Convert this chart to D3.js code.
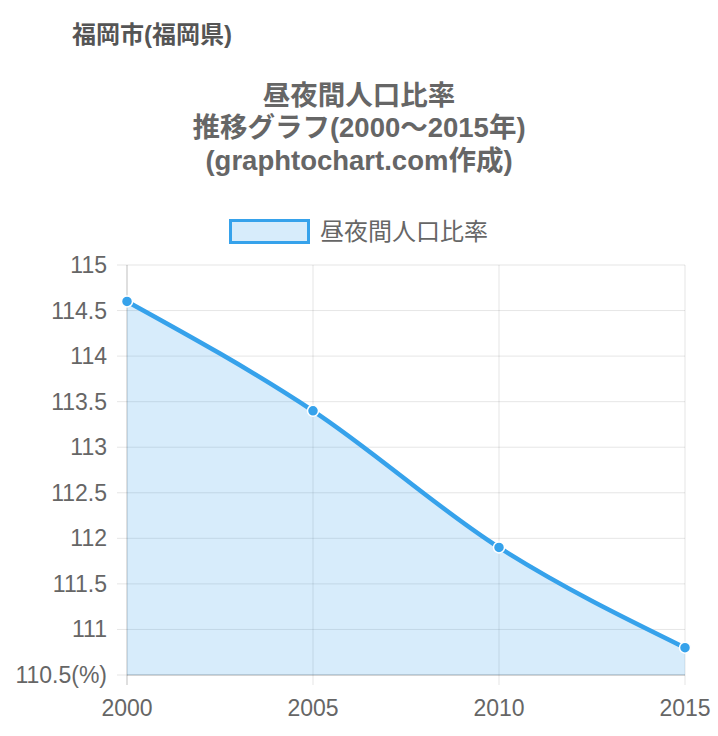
<!DOCTYPE html>
<html><head><meta charset="utf-8">
<script src="https://cdn.jsdelivr.net/npm/d3@7"></script>
<style>body{margin:0;background:#fff;}svg{display:block;font-family:"Liberation Sans","Noto Sans CJK JP",sans-serif;}</style>
</head><body>
<svg id="c" width="718" height="736"></svg>
<script>
const years = [2000, 2005, 2010, 2015];
const values = [114.6, 113.4, 111.9, 110.8];
const yTicks = [110.5, 111, 111.5, 112, 112.5, 113, 113.5, 114, 114.5, 115];
const seriesName = "昼夜間人口比率";
const pageTitle = "福岡市(福岡県)";
const titleLines = ["昼夜間人口比率", "推移グラフ(2000～2015年)", "(graphtochart.com作成)"];

(function () {
const svg = d3.select("#c");
const pL = 127, pR = 685, pT = 265, pB = 675;
const x = d3.scaleLinear().domain([2000, 2015]).range([pL, pR]);
const y = d3.scaleLinear().domain([110.5, 115]).range([pB, pT]);
const blue = "rgb(54,162,235)";
const fill = "rgba(54,162,235,0.2)";
const txt = "#666";

svg.append("text").attr("x", 72).attr("y", 43).attr("font-size", 24).attr("font-weight", "bold").attr("fill", "#555").text(pageTitle);
titleLines.forEach((t, i) => {
  svg.append("text").attr("x", 359).attr("y", 104.5 + i * 32.5).attr("text-anchor", "middle")
    .attr("font-size", 27.5).attr("font-weight", "bold").attr("fill", txt).text(t);
});

// legend
svg.append("rect").attr("x", 230.5).attr("y", 220.5).attr("width", 78).attr("height", 22)
  .attr("fill", fill).attr("stroke", blue).attr("stroke-width", 3);
svg.append("text").attr("x", 320).attr("y", 239.5).attr("font-size", 24).attr("fill", txt).text(seriesName);

// grid
const g = svg.append("g");
yTicks.forEach(v => {
  g.append("line").attr("x1", pL - 10).attr("x2", pR).attr("y1", y(v)).attr("y2", y(v))
    .attr("stroke", "rgba(0,0,0,0.1)").attr("stroke-width", 1);
  g.append("text").attr("x", pL - 20).attr("y", y(v) + 8).attr("text-anchor", "end")
    .attr("font-size", 23).attr("fill", txt).text(v === 110.5 ? "110.5(%)" : String(v));
});
years.forEach(v => {
  g.append("line").attr("x1", x(v)).attr("x2", x(v)).attr("y1", pT).attr("y2", pB + 10)
    .attr("stroke", v === 2000 ? "rgba(0,0,0,0.25)" : "rgba(0,0,0,0.1)").attr("stroke-width", 1);
  g.append("text").attr("x", x(v)).attr("y", 716).attr("text-anchor", "middle")
    .attr("font-size", 23).attr("fill", txt).text(v);
});
g.append("line").attr("x1", pL).attr("x2", pR).attr("y1", pB).attr("y2", pB)
  .attr("stroke", "rgba(0,0,0,0.25)");

const data = years.map((d, i) => ({x: d, y: values[i]}));
const curve = d3.curveMonotoneX;
svg.append("path").datum(data)
  .attr("d", d3.area().x(d => x(d.x)).y0(pB).y1(d => y(d.y)).curve(curve))
  .attr("fill", fill);
svg.append("path").datum(data)
  .attr("d", d3.line().x(d => x(d.x)).y(d => y(d.y)).curve(curve))
  .attr("fill", "none").attr("stroke", blue).attr("stroke-width", 4.5);
svg.selectAll("circle.p").data(data).enter().append("circle")
  .attr("cx", d => x(d.x)).attr("cy", d => y(d.y)).attr("r", 5.5)
  .attr("fill", blue).attr("stroke", "#fff").attr("stroke-width", 1.5);
})();
</script>
</body></html>
